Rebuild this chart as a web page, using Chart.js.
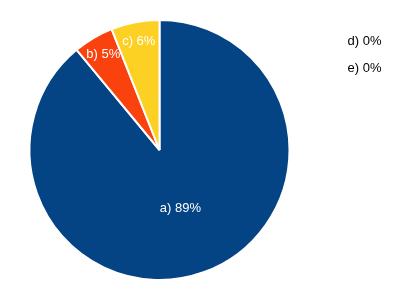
<!DOCTYPE html>
<html>
<head>
<meta charset="utf-8">
<script src="https://cdn.jsdelivr.net/npm/chart.js@4"></script>
<style>
  html, body { margin: 0; padding: 0; background: #fff; }
  #wrap { width: 400px; height: 302px; }
</style>
</head>
<body>
<div id="wrap"><canvas id="pie-chart" width="400" height="302"></canvas></div>
<script>
const categories = ["a)", "b)", "c)", "d)", "e)"];
const values = [89, 5, 6, 0, 0];
const colors = ["#044384", "#F9420E", "#FDD123", "#7F7F7F", "#9BBB59"];

// draws slice labels inside the pie, and zero slices as a list on the right
const sliceLabels = {
  id: "sliceLabels",
  afterDatasetsDraw(chart) {
    const ctx = chart.ctx;
    const arcs = chart.getDatasetMeta(0).data;
    ctx.save();
    ctx.font = "13px 'Liberation Sans', Arial, sans-serif";
    ctx.textAlign = "center";
    ctx.textBaseline = "middle";
    let row = 0;
    arcs.forEach((arc, i) => {
      const text = categories[i] + " " + values[i] + "%";
      if (values[i] === 0) {
        ctx.fillStyle = "#000";
        ctx.fillText(text, 364.5, 41 + row * 27.5);
        row++;
        return;
      }
      const p = arc.getProps(["x", "y", "startAngle", "endAngle", "outerRadius"], true);
      const mid = (p.startAngle + p.endAngle) / 2;
      const r = p.outerRadius * (values[i] >= 50 ? 0.475 : 0.85);
      ctx.fillStyle = "#fff";
      ctx.fillText(text, p.x + Math.cos(mid) * r, p.y + Math.sin(mid) * r);
    });
    ctx.restore();
  },
};

const ctx = document.getElementById("pie-chart").getContext("2d");
new Chart(ctx, {
  type: "pie",
  data: {
    labels: categories,
    datasets: [
      {
        data: values,
        backgroundColor: colors,
        borderColor: "#fff",
        borderWidth: 2,
      },
    ],
  },
  options: {
    responsive: false,
    animation: false,
    layout: { padding: { left: 28.5, right: 109.5, top: 19, bottom: 21 } },
    plugins: {
      legend: { display: false },
      tooltip: { enabled: false },
    },
  },
  plugins: [sliceLabels],
});
</script>
</body>
</html>
